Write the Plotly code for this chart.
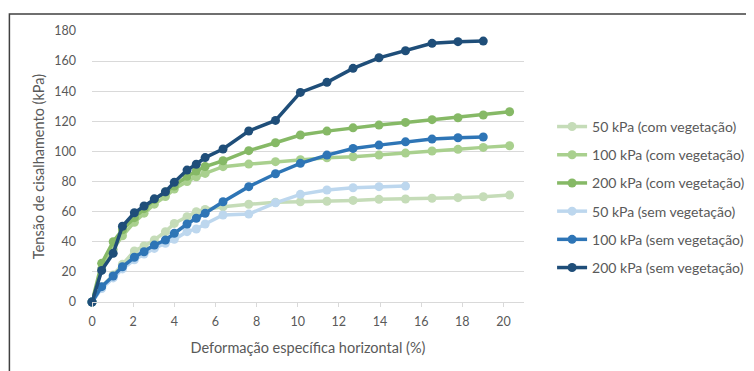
import plotly.graph_objects as go

# ---- data ----
x_points = [0, 0.47, 1.03, 1.48, 2.06, 2.53, 3.03, 3.57, 4.0, 4.62, 5.07, 5.5,
            6.37, 7.62, 8.92, 10.13, 11.42, 12.69, 13.95, 15.24, 16.53, 17.79, 19.02, 20.3]

y_50_com = [0, 10, 18, 25, 33.9, 37.2, 41.2, 46.7, 52.2, 56.6, 60, 61.5,
            63.3, 64.9, 66.2, 66.6, 66.9, 67.5, 68.2, 68.4, 68.9, 69.3, 69.9, 71.0]
y_100_com = [0, 22, 35, 44, 53, 59, 65, 70, 75, 80, 83.2, 85.4,
             89.9, 91.6, 93.2, 94.5, 95.8, 96.5, 97.6, 98.9, 100.3, 101.4, 102.7, 103.8]
y_200_com = [0, 25.7, 40, 48, 56, 62, 68, 73, 77, 83.5, 87, 90,
             93.8, 100.5, 105.8, 110.9, 113.5, 115.7, 117.5, 119.3, 121.1, 122.4, 124.2, 126.4]
y_50_sem = [0, 9, 16, 22, 28, 31.9, 35.6, 39, 41.6, 46.7, 48.5, 51.8,
            57.8, 58.4, 65.9, 71.5, 74.4, 75.9, 76.6, 77.0]
y_100_sem = [0, 10.2, 17.3, 23.4, 29.7, 33.4, 37.8, 41.2, 45.6, 51.8, 55.6, 58.9,
             66.6, 76.6, 85.2, 92.1, 97.6, 102, 104.2, 106.4, 108.2, 109.1, 109.6]
y_200_sem = [0, 21, 32.3, 50.3, 59.3, 63.8, 68.5, 73.2, 79.5, 87.6, 91.5, 95.9,
             101.6, 113.6, 120.6, 139.2, 145.9, 155.2, 162.2, 166.9, 171.8, 172.9, 173.3]

series_names = ["50 kPa (com vegetação)", "100 kPa (com vegetação)", "200 kPa (com vegetação)",
                "50 kPa (sem vegetação)", "100 kPa (sem vegetação)", "200 kPa (sem vegetação)"]
series_values = [y_50_com, y_100_com, y_200_com, y_50_sem, y_100_sem, y_200_sem]
series_colors = ["#c5dcb8", "#a9d08e", "#86b966", "#bdd7ee", "#2e75b6", "#1f4e79"]

x_title = "Deformação específica horizontal (%)"
y_title = "Tensão de cisalhamento (kPa)"

FONT = "Lato, Carlito, 'Liberation Sans', sans-serif"
GRAY = "#595959"

fig = go.Figure()
for i, (name, ys, col) in enumerate(zip(series_names, series_values, series_colors)):
    fig.add_trace(go.Scatter(
        x=x_points[:len(ys)], y=ys, name=name, mode="lines+markers",
        line=dict(color=col, width=3.5),
        marker=dict(color=col, size=9),
        legendgroup=f"g{i}", cliponaxis=False,
    ))

# page body adds an 8px offset; margins below account for it
fig.update_layout(
    width=754, height=371,
    margin=dict(l=84, r=236, t=23, b=77),
    paper_bgcolor="white", plot_bgcolor="white",
    font=dict(family=FONT, size=12, color=GRAY),
    showlegend=True,
    legend=dict(x=1.065, xanchor="left", y=0.705, yanchor="top",
                font=dict(family=FONT, size=14, color=GRAY),
                tracegroupgap=7, itemwidth=30, bgcolor="rgba(0,0,0,0)"),
    xaxis=dict(range=[0, 21], tickvals=list(range(0, 21, 2)), showgrid=False,
               showline=True, linecolor="#d9d9d9", linewidth=1,
               ticks="outside", ticklen=4, tickcolor="#d9d9d9",
               zeroline=False, ticklabelstandoff=4,
               tickfont=dict(size=12.5, color=GRAY),
               title=dict(text=x_title, standoff=14, font=dict(size=14.5, color=GRAY))),
    yaxis=dict(range=[0, 180], dtick=20, showgrid=True, gridcolor="#d9d9d9", gridwidth=1,
               showline=False, zeroline=False, ticks="", ticklabelstandoff=15,
               tickfont=dict(size=12.5, color=GRAY),
               title=dict(text=y_title, standoff=6, font=dict(size=14.5, color=GRAY))),
    shapes=[dict(type="rect", xref="paper", yref="paper",
                 x0=-0.1912, x1=2.0, y0=-1.0, y1=1.0627,
                 line=dict(color="#404040", width=1.5), layer="below")],
)

fig.write_html("out.html")
